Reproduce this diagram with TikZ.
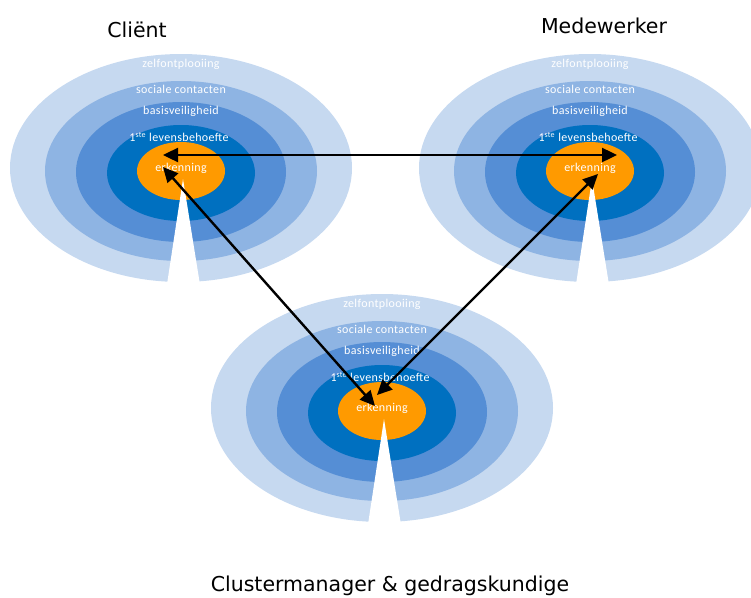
\documentclass[tikz,border=0pt]{standalone}
\usepackage{fontspec}
\setmainfont{DejaVu Sans}
\newfontfamily\ringfont[LetterSpace=3]{Carlito}
\usetikzlibrary{arrows.meta}
\definecolor{ringA}{HTML}{C6D9F0}
\definecolor{ringB}{HTML}{8EB4E3}
\definecolor{ringC}{HTML}{558ED5}
\definecolor{ringD}{HTML}{0070C0}
\definecolor{coreOrange}{HTML}{FF9A00}

\begin{document}
\begin{tikzpicture}[
  x=1pt, y=-1pt,
  ringlabel/.style={font=\ringfont\fontsize{12}{14}\selectfont, text=white, inner sep=0pt},
  title/.style={font=\fontsize{20.5}{24}\selectfont, anchor=base, inner sep=0pt},
  link/.style={{Triangle[length=15pt,width=14pt]}-{Triangle[length=15pt,width=14pt]}, line width=2.4pt}
]
\useasboundingbox (0,0) rectangle (751,597);
\clip (0,0) rectangle (751,597);

% the three targets
\foreach \n/\cx/\cy in {cli/181/171, med/590/171, clu/382/411} {
  \fill[ringA] (\cx,\cy-3) ellipse [x radius=171, y radius=114];
  \fill[ringB] (\cx,\cy) ellipse [x radius=136, y radius=90];
  \fill[ringC] (\cx,\cy+1) ellipse [x radius=105, y radius=70];
  \fill[ringD] (\cx,\cy+2) ellipse [x radius=74, y radius=48];
  \fill[coreOrange] (\cx,\cy) ellipse [x radius=44, y radius=29];
  \fill[white] (\cx+2,\cy+8) -- (\cx-15,\cy+120) -- (\cx+20,\cy+120) -- cycle;
  \node[ringlabel] (\n-zelf) at (\cx,\cy-107) {zelfontplooiing};
  \node[ringlabel] (\n-soc) at (\cx,\cy-82) {sociale contacten};
  \node[ringlabel] (\n-basis) at (\cx,\cy-60) {basisveiligheid};
  \node[ringlabel] (\n-lev) at (\cx-2,\cy-34) {1\textsuperscript{ste} levensbehoefte};
  \node[ringlabel] (\n-erk) at (\cx,\cy-3) {erkenning};
}

\node[title] (cli-title) at (137,37) {Cliënt};
\node[title] (med-title) at (604,33) {Medewerker};
\node[title] (clu-title) at (390,591) {Clustermanager \& gedragskundige};

% arrow ends
\coordinate (cli-h) at (163,155);
\coordinate (med-h) at (617,155);
\coordinate (cli-d) at (163,167);
\coordinate (clu-l) at (375,406);
\coordinate (med-d) at (598,174);
\coordinate (clu-r) at (377,395);

\draw[link] (cli-h) -- (med-h);
\draw[link] (cli-d) -- (clu-l);
\draw[link] (med-d) -- (clu-r);
\end{tikzpicture}
\end{document}
